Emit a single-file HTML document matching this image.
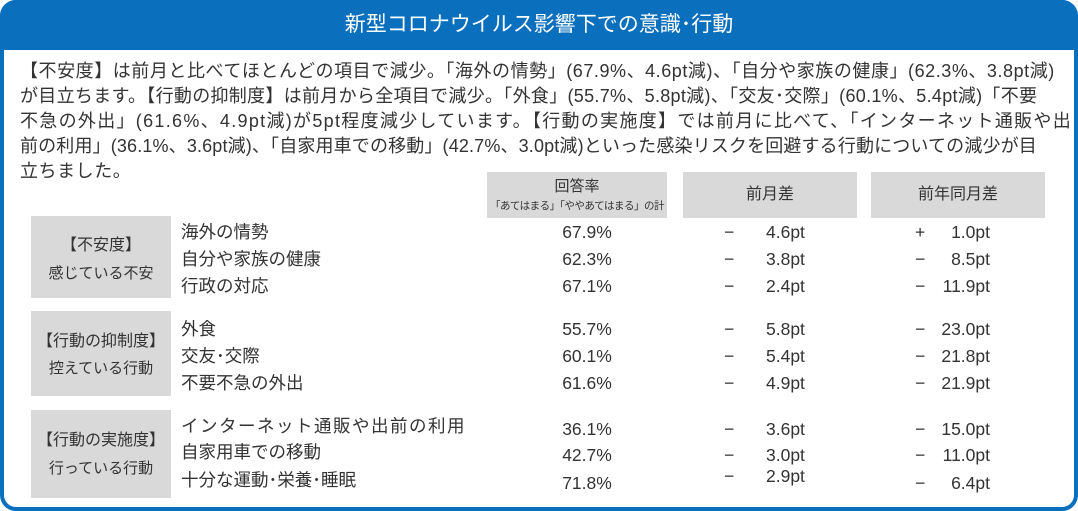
<!DOCTYPE html>
<html><head><meta charset="utf-8"><style>
body{margin:0;width:1078px;height:511px;overflow:hidden;background:#fff;font-family:"Liberation Sans","Noto Sans CJK JP",sans-serif;color:#333}
.frame{position:absolute;left:0;top:0;width:1070px;height:503px;border:4px solid #0a6fbd;border-radius:16px;background:#fff}
.hd{position:absolute;left:0;top:0;width:1078px;height:50px;background:#0a6fbd;border-radius:16px 16px 0 0;color:#fff;font-size:21px;text-align:center;line-height:50px}
.p{position:absolute;left:20px;top:59px;width:1050px;font-size:18px;line-height:25px;white-space:nowrap;letter-spacing:0.55px}
.a{position:absolute;white-space:nowrap;font-size:17.5px;line-height:20px}
.box{position:absolute;background:#d9d9d9}
.c{text-align:center}
</style></head><body>
<div class="frame"></div>
<div class="hd">新型コロナウイルス影響下での意識･行動</div>
<div class="p"><div>【不安度】は前月と比べてほとんどの項目で減少。「海外の情勢」(67.9%、4.6pt減)、「自分や家族の健康」(62.3%、3.8pt減)</div><div style="letter-spacing:0.3px">が目立ちます。【行動の抑制度】は前月から全項目で減少。「外食」(55.7%、5.8pt減)、「交友･交際」(60.1%、5.4pt減)「不要</div><div style="letter-spacing:1.3px">不急の外出」(61.6%、4.9pt減)が5pt程度減少しています。【行動の実施度】では前月に比べて、「インターネット通販や出</div><div style="letter-spacing:0.15px">前の利用」(36.1%、3.6pt減)、「自家用車での移動」(42.7%、3.0pt減)といった感染リスクを回避する行動についての減少が目</div><div>立ちました。</div></div>

<div class="box" style="left:487px;top:172px;width:180px;height:46px"></div>
<div class="a c" style="left:487px;top:177px;width:180px;font-size:15px">回答率</div>
<div class="a c" style="left:487px;top:199px;width:180px;font-size:10.5px;line-height:14px;letter-spacing:-0.5px">「あてはまる」「ややあてはまる」の計</div>
<div class="box" style="left:683px;top:172px;width:174px;height:46px"></div>
<div class="a c" style="left:683px;top:185px;width:174px;font-size:16px">前月差</div>
<div class="box" style="left:871px;top:172px;width:174px;height:46px"></div>
<div class="a c" style="left:871px;top:185px;width:174px;font-size:16px">前年同月差</div>

<div class="box" style="left:31px;top:216px;width:140px;height:82px"></div>
<div class="a c" style="left:31px;top:236px;width:140px;font-size:16px">【不安度】</div>
<div class="a c" style="left:31px;top:264px;width:140px;font-size:15px">感じている不安</div>
<div class="box" style="left:31px;top:311px;width:140px;height:85px"></div>
<div class="a c" style="left:31px;top:332px;width:140px;font-size:16px">【行動の抑制度】</div>
<div class="a c" style="left:31px;top:359px;width:140px;font-size:15px">控えている行動</div>
<div class="box" style="left:31px;top:410px;width:140px;height:88px"></div>
<div class="a c" style="left:31px;top:431px;width:140px;font-size:16px">【行動の実施度】</div>
<div class="a c" style="left:31px;top:459px;width:140px;font-size:15px">行っている行動</div>

<div class="a" style="left:181px;top:222px">海外の情勢</div>
<div class="a" style="left:181px;top:249px">自分や家族の健康</div>
<div class="a" style="left:181px;top:276px">行政の対応</div>
<div class="a" style="left:181px;top:319px">外食</div>
<div class="a" style="left:181px;top:346px">交友･交際</div>
<div class="a" style="left:181px;top:373px">不要不急の外出</div>
<div class="a" style="left:181px;top:416px;letter-spacing:1.5px">インターネット通販や出前の利用</div>
<div class="a" style="left:181px;top:442px">自家用車での移動</div>
<div class="a" style="left:181px;top:470px">十分な運動･栄養･睡眠</div>

<div class="a c" style="left:527px;top:222px;width:120px">67.9%</div>
<div class="a c" style="left:527px;top:249px;width:120px">62.3%</div>
<div class="a c" style="left:527px;top:276px;width:120px">67.1%</div>
<div class="a c" style="left:527px;top:319px;width:120px">55.7%</div>
<div class="a c" style="left:527px;top:346px;width:120px">60.1%</div>
<div class="a c" style="left:527px;top:373px;width:120px">61.6%</div>
<div class="a c" style="left:527px;top:419px;width:120px">36.1%</div>
<div class="a c" style="left:527px;top:445px;width:120px">42.7%</div>
<div class="a c" style="left:527px;top:473px;width:120px">71.8%</div>

<div class="a" style="left:724px;top:222px">−</div><div class="a" style="left:766px;top:222px">4.6pt</div>
<div class="a" style="left:724px;top:249px">−</div><div class="a" style="left:766px;top:249px">3.8pt</div>
<div class="a" style="left:724px;top:276px">−</div><div class="a" style="left:766px;top:276px">2.4pt</div>
<div class="a" style="left:724px;top:319px">−</div><div class="a" style="left:766px;top:319px">5.8pt</div>
<div class="a" style="left:724px;top:346px">−</div><div class="a" style="left:766px;top:346px">5.4pt</div>
<div class="a" style="left:724px;top:373px">−</div><div class="a" style="left:766px;top:373px">4.9pt</div>
<div class="a" style="left:724px;top:419px">−</div><div class="a" style="left:766px;top:419px">3.6pt</div>
<div class="a" style="left:724px;top:445px">−</div><div class="a" style="left:766px;top:445px">3.0pt</div>
<div class="a" style="left:724px;top:466px">−</div><div class="a" style="left:766px;top:466px">2.9pt</div>

<div class="a" style="left:915px;top:222px">+</div><div class="a" style="left:930px;top:222px;width:60px;text-align:right">1.0pt</div>
<div class="a" style="left:915px;top:249px">−</div><div class="a" style="left:930px;top:249px;width:60px;text-align:right">8.5pt</div>
<div class="a" style="left:915px;top:276px">−</div><div class="a" style="left:930px;top:276px;width:60px;text-align:right">11.9pt</div>
<div class="a" style="left:915px;top:319px">−</div><div class="a" style="left:930px;top:319px;width:60px;text-align:right">23.0pt</div>
<div class="a" style="left:915px;top:346px">−</div><div class="a" style="left:930px;top:346px;width:60px;text-align:right">21.8pt</div>
<div class="a" style="left:915px;top:373px">−</div><div class="a" style="left:930px;top:373px;width:60px;text-align:right">21.9pt</div>
<div class="a" style="left:915px;top:419px">−</div><div class="a" style="left:930px;top:419px;width:60px;text-align:right">15.0pt</div>
<div class="a" style="left:915px;top:445px">−</div><div class="a" style="left:930px;top:445px;width:60px;text-align:right">11.0pt</div>
<div class="a" style="left:915px;top:473px">−</div><div class="a" style="left:930px;top:473px;width:60px;text-align:right">6.4pt</div>
</body></html>
